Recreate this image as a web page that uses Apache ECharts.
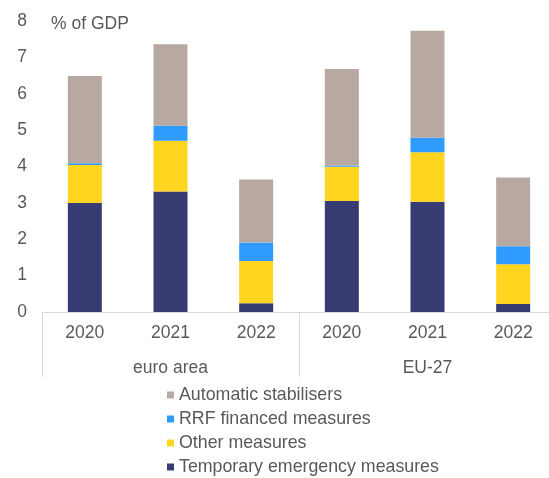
<!DOCTYPE html>
<html>
<head>
<meta charset="utf-8">
<script src="https://cdn.jsdelivr.net/npm/echarts@6/dist/echarts.min.js"></script>
<style>
html,body{margin:0;padding:0;background:#fff;overflow:hidden;width:549px;height:478px;}
#c{width:570px;height:530px;}
</style>
</head>
<body>
<div id="c"></div>
<script>
var years = ['2020', '2021', '2022', '2020', '2021', '2022'];
var groups = ['euro area', 'EU-27'];
var temporary = [3.0, 3.31, 0.24, 3.05, 3.03, 0.22];
var other = [1.04, 1.40, 1.16, 0.94, 1.36, 1.09];
var rrf = [0.05, 0.41, 0.51, 0.04, 0.40, 0.50];
var autoStab = [2.40, 2.24, 1.73, 2.65, 2.94, 1.89];
var yTicks = [0, 1, 2, 3, 4, 5, 6, 7, 8];

var FONT = 'Liberation Sans, Arial, sans-serif';
var TXT = '#595959';
var FS = 17.5;

var chart = echarts.init(document.getElementById('c'), null, {renderer: 'canvas'});
function s(name, data, color) {
  return {
    name: name, type: 'bar', stack: 'total', data: data,
    barWidth: 34, xAxisIndex: 0, yAxisIndex: 0,
    itemStyle: {color: color},
    emphasis: {disabled: true}
  };
}
chart.setOption({
  animation: false,
  textStyle: {fontFamily: FONT},
  title: {
    text: '% of GDP', left: 46, top: 10,
    textStyle: {fontFamily: FONT, fontSize: FS, fontWeight: 'normal', color: TXT}
  },
  grid: {left: 42, top: 21, width: 514, height: 291, containLabel: false},
  legend: {
    orient: 'vertical', left: 162, top: 381, height: 130,
    itemWidth: 7, itemHeight: 7, itemGap: 6, icon: 'rect',
    data: ['Automatic stabilisers', 'RRF financed measures', 'Other measures', 'Temporary emergency measures'],
    textStyle: {fontFamily: FONT, fontSize: 17.8, color: TXT, lineHeight: 18}
  },
  xAxis: [
    {
      type: 'category', data: years, position: 'bottom', gridIndex: 0,
      axisLine: {show: true, lineStyle: {color: '#d9d9d9', width: 1}},
      axisTick: {show: false},
      axisLabel: {margin: 12, fontFamily: FONT, fontSize: FS, color: TXT, interval: 0}
    },
    {
      type: 'category', data: groups, position: 'bottom', gridIndex: 0,
      axisLine: {show: false},
      axisTick: {show: true, length: 65, lineStyle: {color: '#d9d9d9', width: 1}},
      axisLabel: {margin: 47, fontFamily: FONT, fontSize: FS, color: TXT, interval: 0}
    }
  ],
  yAxis: {
    type: 'value', min: yTicks[0], max: yTicks[yTicks.length - 1], interval: 1,
    axisLine: {show: false}, axisTick: {show: false}, splitLine: {show: false},
    axisLabel: {margin: 15, fontFamily: FONT, fontSize: FS, color: TXT}
  },
  series: [
    s('Temporary emergency measures', temporary, '#363B71'),
    s('Other measures', other, '#FFD520'),
    s('RRF financed measures', rrf, '#2F9BFF'),
    s('Automatic stabilisers', autoStab, '#B7A9A1')
  ]
});
</script>
</body>
</html>
